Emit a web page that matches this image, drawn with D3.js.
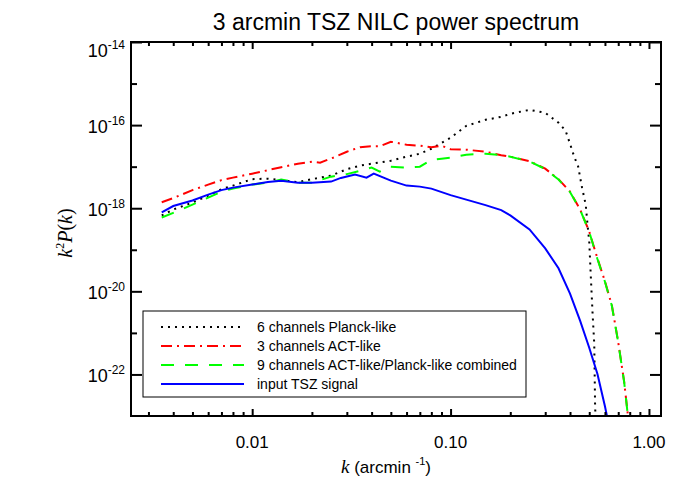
<!DOCTYPE html>
<html><head><meta charset="utf-8">
<script src="https://cdn.jsdelivr.net/npm/d3@7"></script>
<style>body{margin:0;background:#fff}svg{display:block}</style>
</head><body><svg id="c" width="700" height="500"></svg>
<script>
// ---- data ----
const title = "3 arcmin TSZ NILC power spectrum";
const xTickLabels = ["0.01", "0.10", "1.00"];
const xMajor = [0.01, 0.1, 1];
const yMajor = [1e-22, 1e-20, 1e-18, 1e-16, 1e-14];
const yMinor = [1e-21, 1e-19, 1e-17, 1e-15];
const yTickExp = ["-22", "-20", "-18", "-16", "-14"];
const seriesNames = ["6 channels Planck-like", "3 channels ACT-like",
  "9 channels ACT-like/Planck-like combined", "input TSZ signal"];

const kPlanck = [0.0035,0.004,0.005,0.006,0.007,0.008,0.01,0.012,0.014,0.017,0.02,0.025,0.03,0.035,0.04,0.05,0.06,0.07,0.08,0.1,0.12,0.15,0.18,0.2,0.25,0.3,0.35,0.38,0.4,0.42,0.44,0.45,0.46,0.48,0.49,0.5,0.51,0.52,0.53,0.535,0.54];
const pPlanck = [6.7e-19,9.3e-19,1.37e-18,2.01e-18,2.88e-18,3.5e-18,5.0e-18,5.15e-18,4.74e-18,4.25e-18,5.0e-18,6.08e-18,8.7e-18,1.06e-17,1.18e-17,1.39e-17,1.74e-17,2.05e-17,2.7e-17,4.97e-17,9.6e-17,1.34e-16,1.58e-16,1.87e-16,2.33e-16,1.98e-16,1.14e-16,7.3e-17,3.56e-17,1.74e-17,1.0e-17,5.45e-18,3.13e-18,1.22e-18,4.06e-19,1.58e-19,1.94e-20,2.8e-21,5.4e-22,1.95e-23,4.9e-24];

const kACT = [0.0035,0.004,0.005,0.006,0.007,0.008,0.01,0.012,0.014,0.017,0.02,0.022,0.026,0.03,0.035,0.04,0.044,0.05,0.06,0.07,0.08,0.09,0.1,0.12,0.15,0.18,0.2,0.25,0.3,0.35,0.4,0.45,0.5,0.55,0.6,0.65,0.7,0.75,0.78,0.8];
const pACT = [1.39e-18,1.75e-18,2.73e-18,3.7e-18,4.74e-18,5.45e-18,6.79e-18,8.24e-18,9.7e-18,1.18e-17,1.32e-17,1.25e-17,1.69e-17,2.29e-17,2.94e-17,3.1e-17,3.1e-17,3.98e-17,3.37e-17,3.19e-17,2.94e-17,3.19e-17,2.63e-17,2.56e-17,2.29e-17,1.89e-17,1.74e-17,1.35e-17,8.95e-18,5.0e-18,2.51e-18,9.3e-19,2.75e-19,6.2e-20,1.74e-20,4.6e-21,6.0e-22,6.6e-23,1.25e-23,2.8e-24];

const kComb = [0.0035,0.004,0.0045,0.005,0.006,0.007,0.008,0.01,0.012,0.014,0.017,0.02,0.025,0.03,0.035,0.04,0.044,0.05,0.06,0.07,0.08,0.09,0.1,0.12,0.15,0.18,0.2,0.25,0.3,0.35,0.4,0.45,0.5,0.55,0.6,0.65,0.7,0.75,0.78,0.8];
const pComb = [5.97e-19,7.74e-19,9.8e-19,1.22e-18,1.8e-18,2.51e-18,2.96e-18,3.7e-18,4.13e-18,4.88e-18,4.13e-18,4.13e-18,5.75e-18,6.61e-18,8.0e-18,9.5e-18,7.6e-18,1.0e-17,9.5e-18,1.0e-17,1.47e-17,1.56e-17,1.64e-17,1.94e-17,2.05e-17,1.89e-17,1.74e-17,1.33e-17,8.8e-18,4.9e-18,2.45e-18,9.1e-19,2.7e-19,6.0e-20,1.7e-20,4.5e-21,5.9e-22,6.5e-23,1.2e-23,2.7e-24];

const kInput = [0.0035,0.004,0.005,0.006,0.007,0.008,0.01,0.012,0.014,0.017,0.02,0.025,0.028,0.033,0.0377,0.041,0.05,0.06,0.07,0.08,0.1,0.12,0.15,0.18,0.2,0.25,0.3,0.35,0.4,0.45,0.5,0.55,0.6,0.62];
const pInput = [7.9e-19,1.13e-18,1.53e-18,2.13e-18,2.73e-18,3.13e-18,3.7e-18,4.25e-18,4.61e-18,4.13e-18,4.13e-18,4.37e-18,5.36e-18,6.43e-18,5.45e-18,6.79e-18,4.61e-18,3.5e-18,3.31e-18,2.96e-18,2.07e-18,1.61e-18,1.19e-18,9.0e-19,6.7e-19,3.08e-19,1.08e-19,3.6e-20,8.8e-21,1.95e-21,4.4e-22,1.03e-22,1.72e-23,8e-24];

// ---- layout ----
const L = 131, R = 661, T = 42, B = 416;
const sans = "'Liberation Sans', Arial, Helvetica, sans-serif";
const serif = "'Liberation Serif', 'Times New Roman', serif";
const svg = d3.select("#c");
const x = d3.scaleLog().domain([0.00245, 1.15]).range([L, R]);
const y = d3.scaleLog().domain([1e-23, 1e-14]).range([B, T]);

const xMinor = [];
[0.001, 0.01, 0.1].forEach(d => { for (let i = 2; i <= 9; i++) { const v = d * i; if (v > 0.00245 && v < 1.15) xMinor.push(v); } });

svg.append("defs").append("clipPath").attr("id", "clip")
  .append("rect").attr("x", L).attr("y", T).attr("width", R - L).attr("height", B - T);

const series = [
  {k: kPlanck, p: pPlanck, color: "#000000", dash: "2,5"},
  {k: kACT, p: pACT, color: "#ff0000", dash: "11,5,2,5"},
  {k: kComb, p: pComb, color: "#00ff00", dash: "13,11"},
  {k: kInput, p: pInput, color: "#0000ff", dash: null}
];
const line = d3.line().x(d => x(d[0])).y(d => y(d[1]));
const g = svg.append("g").attr("clip-path", "url(#clip)");
series.forEach(s => {
  g.append("path").datum(s.k.map((k, i) => [k, s.p[i]]))
    .attr("d", line).attr("fill", "none").attr("stroke", s.color)
    .attr("stroke-width", 2).attr("stroke-dasharray", s.dash);
});

// ---- axes (ticks inward on all four sides) ----
function ax(gen, vals, size, tx, ty) {
  const a = svg.append("g").attr("transform", `translate(${tx},${ty})`)
    .call(gen.tickValues(vals).tickSizeInner(-size).tickSizeOuter(0).tickFormat(""));
  a.select(".domain").remove();
  a.selectAll("line").attr("stroke", "#000").attr("stroke-width", 2);
}
ax(d3.axisBottom(x), xMajor, 7, 0, B);
ax(d3.axisBottom(x), xMinor, 4, 0, B);
ax(d3.axisTop(x), xMajor, 7, 0, T);
ax(d3.axisTop(x), xMinor, 4, 0, T);
ax(d3.axisLeft(y), yMajor, 11, L, 0);
ax(d3.axisLeft(y), yMinor, 6, L, 0);
ax(d3.axisRight(y), yMajor, 11, R, 0);
ax(d3.axisRight(y), yMinor, 6, R, 0);

svg.append("rect").attr("x", L).attr("y", T).attr("width", R - L).attr("height", B - T)
  .attr("fill", "none").attr("stroke", "#000").attr("stroke-width", 2);

// x tick labels
xMajor.forEach((v, i) => {
  svg.append("text").attr("x", x(v)).attr("y", 448).attr("text-anchor", "middle")
    .attr("font-family", sans).attr("font-size", 17).text(xTickLabels[i]);
});
// y tick labels
yMajor.forEach((v, i) => {
  const yy = Math.max(y(v) + 8, T + 15);
  const t = svg.append("text").attr("x", 125).attr("y", yy).attr("text-anchor", "end")
    .attr("font-family", sans);
  t.append("tspan").attr("font-size", 18).text("10");
  t.append("tspan").attr("font-size", 12).attr("dy", -8).text(yTickExp[i]);
});

// title
svg.append("text").attr("x", 396).attr("y", 30).attr("text-anchor", "middle")
  .attr("font-family", sans).attr("font-size", 23).text(title);

// x label
const xl = svg.append("text").attr("x", 341).attr("y", 473).attr("font-size", 17);
xl.append("tspan").attr("font-family", serif).attr("font-style", "italic").attr("font-size", 19).text("k");
xl.append("tspan").attr("font-family", sans).text(" (arcmin ");
xl.append("tspan").attr("font-family", sans).attr("font-size", 11).attr("dy", -8).text("-1");
xl.append("tspan").attr("font-family", sans).attr("dy", 8).text(")");

// y label
const yl = svg.append("text").attr("transform", "translate(72,233) rotate(-90)")
  .attr("text-anchor", "middle").attr("font-family", serif).attr("font-size", 20);
yl.append("tspan").attr("font-style", "italic").text("k");
yl.append("tspan").attr("font-size", 12).attr("dy", -8).text("2");
yl.append("tspan").attr("font-style", "italic").attr("dy", 8).text("P");
yl.append("tspan").text("(");
yl.append("tspan").attr("font-style", "italic").text("k");
yl.append("tspan").text(")");

// legend
svg.append("rect").attr("x", 143).attr("y", 311).attr("width", 383).attr("height", 86)
  .attr("fill", "#fff").attr("stroke", "#000").attr("stroke-width", 1);
const rows = [327, 346, 365, 384];
series.forEach((s, i) => {
  svg.append("line").attr("x1", 161).attr("x2", 244).attr("y1", rows[i]).attr("y2", rows[i])
    .attr("stroke", s.color).attr("stroke-width", 2).attr("stroke-dasharray", s.dash);
  svg.append("text").attr("x", 257).attr("y", rows[i] + 5).attr("font-family", sans)
    .attr("font-size", 14).text(seriesNames[i]);
});
</script></body></html>
